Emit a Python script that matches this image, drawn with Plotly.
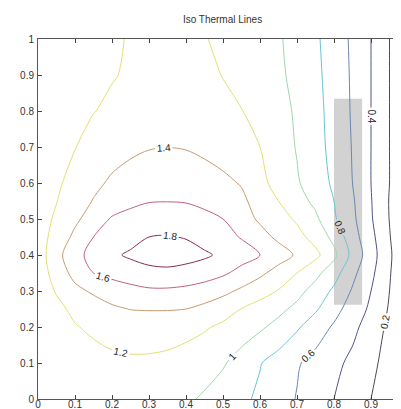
import plotly.graph_objects as go

# grid nodes (x step 0.05, non-uniform y rows)
x_nodes = [0.0, 0.05, 0.1, 0.15, 0.2, 0.25, 0.3, 0.35, 0.4, 0.45, 0.5,
           0.55, 0.6, 0.65, 0.7, 0.75, 0.8, 0.85, 0.9, 0.95, 1.0]
y_nodes = [0.0, 0.1, 0.2, 0.25, 0.3, 0.35, 0.4, 0.45, 0.5, 0.55, 0.6, 0.7, 0.8, 0.9, 1.0]

# temperature values read from the iso-lines, one list per y row
z_y000 = [1.02, 1.05, 1.07, 1.09, 1.10, 1.10, 1.09, 1.065, 1.03, 0.975, 0.905, 0.84, 0.765, 0.68, 0.59, 0.495, 0.40, 0.30, 0.20, 0.10, 0.0]
z_y010 = [1.05, 1.08, 1.11, 1.14, 1.16, 1.17, 1.165, 1.15, 1.12, 1.08, 1.02, 0.92, 0.81, 0.72, 0.62, 0.535, 0.45, 0.355, 0.24, 0.135, 0.0]
z_y020 = [1.08, 1.13, 1.19, 1.23, 1.27, 1.29, 1.30, 1.29, 1.26, 1.22, 1.165, 1.10, 1.03, 0.94, 0.825, 0.70, 0.575, 0.45, 0.31, 0.155, 0.0]
z_y025 = [1.10, 1.16, 1.235, 1.30, 1.37, 1.405, 1.41, 1.41, 1.40, 1.35, 1.28, 1.195, 1.12, 1.05, 0.95, 0.825, 0.67, 0.51, 0.365, 0.18, 0.0]
z_y030 = [1.10, 1.213, 1.347, 1.43, 1.49, 1.54, 1.57, 1.57, 1.55, 1.51, 1.45, 1.365, 1.278, 1.19, 1.065, 0.923, 0.764, 0.58, 0.40, 0.20, 0.0]
z_y035 = [1.10, 1.275, 1.467, 1.60, 1.66, 1.70, 1.74, 1.75, 1.73, 1.69, 1.63, 1.54, 1.44, 1.325, 1.20, 1.057, 0.88, 0.65, 0.446, 0.215, 0.0]
z_y040 = [1.10, 1.332, 1.537, 1.665, 1.765, 1.83, 1.88, 1.90, 1.87, 1.83, 1.76, 1.68, 1.60, 1.489, 1.375, 1.25, 1.05, 0.74, 0.485, 0.23, 0.0]
z_y045 = [1.12, 1.268, 1.446, 1.60, 1.667, 1.73, 1.80, 1.81, 1.79, 1.72, 1.66, 1.588, 1.47, 1.36, 1.26, 1.133, 0.943, 0.684, 0.455, 0.21, 0.0]
z_y050 = [1.12, 1.227, 1.36, 1.493, 1.62, 1.67, 1.70, 1.70, 1.68, 1.645, 1.60, 1.482, 1.371, 1.28, 1.173, 1.04, 0.825, 0.642, 0.42, 0.195, 0.0]
z_y055 = [1.117, 1.195, 1.303, 1.41, 1.49, 1.55, 1.59, 1.595, 1.59, 1.56, 1.51, 1.44, 1.318, 1.20, 1.082, 0.954, 0.80, 0.625, 0.41, 0.19, 0.0]
z_y060 = [1.12, 1.17, 1.264, 1.355, 1.43, 1.48, 1.51, 1.52, 1.51, 1.48, 1.44, 1.387, 1.253, 1.133, 1.02, 0.90, 0.767, 0.60, 0.40, 0.20, 0.0]
z_y070 = [1.12, 1.16, 1.195, 1.26, 1.32, 1.36, 1.39, 1.398, 1.39, 1.36, 1.32, 1.26, 1.20, 1.095, 0.988, 0.87, 0.74, 0.59, 0.40, 0.20, 0.0]
z_y080 = [1.10, 1.13, 1.16, 1.195, 1.23, 1.27, 1.30, 1.32, 1.31, 1.28, 1.24, 1.205, 1.133, 1.06, 0.976, 0.86, 0.729, 0.58, 0.40, 0.20, 0.0]
z_y090 = [1.09, 1.11, 1.14, 1.17, 1.19, 1.22, 1.25, 1.27, 1.26, 1.24, 1.195, 1.14, 1.085, 1.03, 0.955, 0.845, 0.718, 0.575, 0.40, 0.20, 0.0]
z_y100 = [1.08, 1.10, 1.12, 1.15, 1.18, 1.21, 1.24, 1.25, 1.24, 1.21, 1.16, 1.11, 1.065, 1.02, 0.933, 0.83, 0.708, 0.567, 0.40, 0.20, 0.0]

z_rows = [z_y000, z_y010, z_y020, z_y025, z_y030, z_y035, z_y040, z_y045,
          z_y050, z_y055, z_y060, z_y070, z_y080, z_y090, z_y100]

levels_start, levels_end, levels_step = 0.2, 1.8, 0.2
level_colors = ["#4a4a58", "#4f5488", "#6a86b0", "#68c4d2", "#9fd6ae",
                "#e2e070", "#c99a6c", "#c06276", "#862a52"]

tick_vals = [0, 0.1, 0.2, 0.3, 0.4, 0.5, 0.6, 0.7, 0.8, 0.9, 1]
tick_text = ["0", "0.1", "0.2", "0.3", "0.4", "0.5", "0.6", "0.7", "0.8", "0.9", "1"]

n = len(level_colors)
colorscale = [[i / (n - 1), c] for i, c in enumerate(level_colors)]

FONT = "Liberation Sans Narrow, Liberation Sans, Arial, sans-serif"

fig = go.Figure(go.Contour(
    x=x_nodes, y=y_nodes, z=z_rows,
    zmin=levels_start, zmax=levels_end,
    autocontour=False,
    contours=dict(start=levels_start, end=levels_end, size=levels_step,
                  coloring="lines", showlabels=True,
                  labelfont=dict(size=10, color="#222222", family=FONT),
                  labelformat=".3~g"),
    colorscale=colorscale,
    line=dict(width=1, smoothing=0.9),
    showscale=False,
    hoverinfo="skip",
))

axis_common = dict(
    range=[0, 1], tickmode="array", tickvals=tick_vals, ticktext=tick_text,
    ticks="inside", ticklen=4, tickcolor="#444444", showline=True,
    linecolor="#555555", linewidth=1, mirror="ticks", showgrid=False,
    zeroline=False, tickfont=dict(size=10, color="#333333", family=FONT),
)

fig.update_layout(
    width=401, height=409,
    margin=dict(l=30, r=1, t=31, b=18),
    paper_bgcolor="white", plot_bgcolor="white",
    title=dict(text="Iso Thermal Lines", x=0.535, xanchor="center",
               y=1 - 11 / 409, yanchor="middle", yref="container",
               font=dict(size=10, color="#333333", family=FONT)),
    xaxis=dict(axis_common, ticklabelstandoff=-4),
    yaxis=dict(axis_common, ticklabelstandoff=1),
    showlegend=False,
)

# grey overlay patches seen on the picture
fig.add_shape(type="rect", xref="x", yref="y", x0=0.80, x1=0.876, y0=0.262, y1=0.834,
              fillcolor="#d2d2d2", line_width=0, layer="below")
fig.add_shape(type="rect", xref="x", yref="y", x0=0.978, x1=1.0, y0=0.295, y1=0.425,
              fillcolor="#d2d2d2", line_width=0, layer="below")

fig.write_html("out.html")
